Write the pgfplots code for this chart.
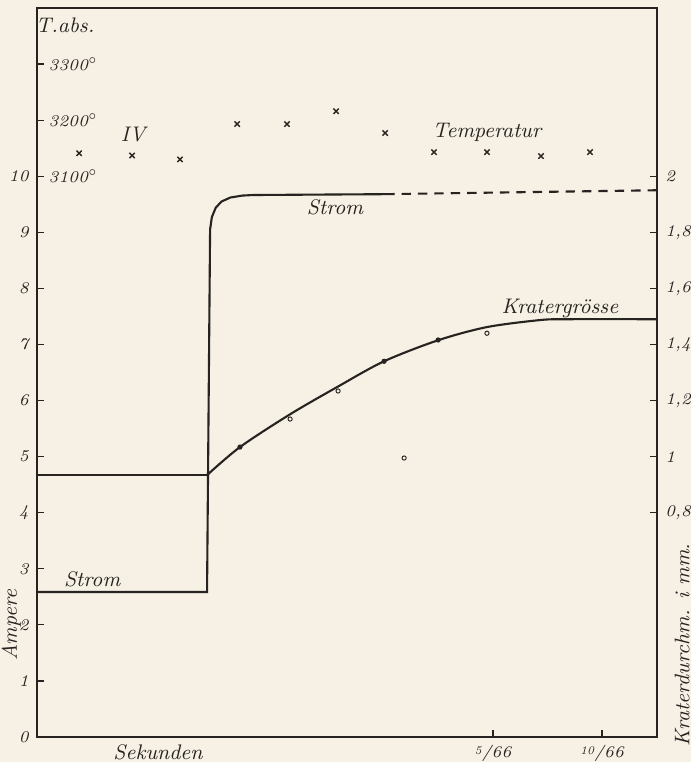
\documentclass[border=0pt]{standalone}
\usepackage{pgfplots}
\usepackage{pgfplotstable}
\pgfplotsset{compat=1.18}

\definecolor{paper}{RGB}{247,241,229}
\definecolor{ink}{RGB}{38,35,32}

% x in units of 1/66 s, current in A
\pgfplotstableread{
t A
-15.92 2.585
-8.12 2.585
-7.98 9.05
-7.90 9.27
-7.72 9.44
-7.45 9.55
-7.05 9.62
-6.50 9.655
-6.00 9.665
0.05 9.68
}\strom

% crater diameter in mm
\pgfplotstableread{
t d
-8.12 0.934
-6.61 1.034
-4.31 1.151
-2.11 1.250
0 1.340
2.48 1.415
4.72 1.462
7.16 1.487
8.40 1.490
12.52 1.490
}\krater

% temperature, absolute
\pgfplotstableread{
t T
-13.99 3141
-11.56 3137
-9.36 3130
-6.74 3193
-4.45 3193
-2.20 3216
0.05 3177
2.29 3143
4.72 3143
7.20 3136
9.45 3143
}\temp

\pgfplotsset{
  base/.style={
    scale only axis, width=9.3cm, height=10.935cm,
    at={(0,0)}, anchor=south west,
    xmin=-15.92, xmax=12.52,
    tick align=inside, major tick length=0.1cm,
    axis line style={ink, line width=0.6pt},
    tick style={ink, line width=0.5pt},
    ticklabel style={font=\itshape\scriptsize, text=ink},
    /pgf/number format/assume math mode=true,
  },
}

\begin{document}
\begin{tikzpicture}
\fill[paper] (-0.555,-0.375) rectangle (9.81,11.055);

\begin{axis}[base,
    ymin=0, ymax=13,
    ytick={0,...,10},
    xtick={5,10},
    xticklabels={{\raisebox{0.5ex}{\tiny 5}/66}, {\raisebox{0.5ex}{\tiny 10}/66}},
    xtick pos=bottom, ytick pos=left,
    clip=false]
\addplot[ink, line width=0.9pt] table[x=t, y=A] {\strom};
\addplot[ink, line width=0.9pt, dash pattern=on 4pt off 3pt] coordinates {(0.05,9.68) (12.52,9.75)};
\node[font=\itshape\small, text=ink] at (axis cs:-14.63,12.69) {T.abs.};
\node[font=\itshape\small, text=ink] at (axis cs:-11.51,10.75) {IV};
\node[font=\itshape\small, text=ink] at (axis cs:4.72,10.78) {Temperatur};
\node[font=\itshape\small, text=ink] at (axis cs:-2.25,9.45) {Strom};
\node[font=\itshape\small, text=ink] at (axis cs:-13.39,2.82) {Strom};
\node[font=\itshape\small, text=ink] at (axis cs:-10.37,-0.27) {Sekunden};
\node[font=\itshape\small, text=ink, rotate=90] at (axis cs:-17.1,2) {Ampere};
\node[font=\itshape\small, text=ink, rotate=90, anchor=east] at (axis cs:13.67,3.6) {Kraterdurchm. i mm.};
\end{axis}

\begin{axis}[base,
    ymin=2100, ymax=3400,
    axis x line=none, axis y line*=left,
    ytick={3100,3200,3300},
    yticklabels={3100$^{\circ}$, 3200$^{\circ}$, 3300$^{\circ}$},
    yticklabel style={anchor=west, xshift=0.05cm}]
\addplot[only marks, mark=x, mark size=1.6pt, ink, line width=0.6pt] table[x=t, y=T] {\temp};
\end{axis}

\begin{axis}[base,
    ymin=0, ymax=2.6,
    axis x line=none, axis y line*=right,
    ytick={0.8,1,1.2,1.4,1.6,1.8,2},
    /pgf/number format/use comma,
    clip=false]
\addplot[ink, line width=0.9pt] coordinates {(-15.92,0.934) (-8.12,0.934)};
\addplot[ink, line width=0.9pt, smooth] table[x=t, y=d] {\krater};
\addplot[only marks, mark=*, mark size=0.9pt, ink] coordinates {(-6.61,1.034) (0,1.340) (2.48,1.416)};
\addplot[only marks, mark=o, mark size=0.9pt, ink, line width=0.4pt] coordinates {(-4.31,1.134) (-2.11,1.234) (0.92,0.995) (4.72,1.440)};
\node[font=\itshape\small, text=ink] at (axis cs:8.07,1.53) {Kratergrösse};
\end{axis}

\pgfresetboundingbox
\path (-0.555,-0.375) rectangle (9.81,11.055);
\end{tikzpicture}
\end{document}
